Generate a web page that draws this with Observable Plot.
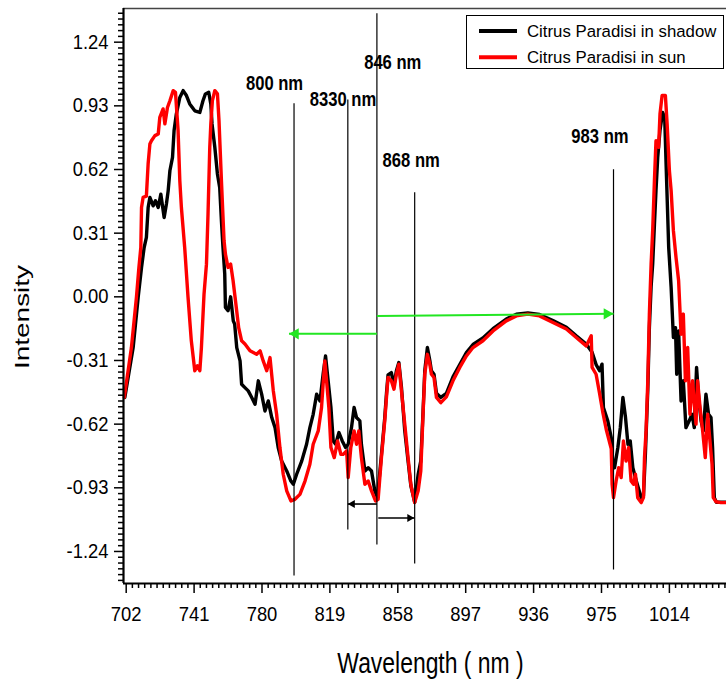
<!DOCTYPE html>
<html><head><meta charset="utf-8">
<script src="https://cdn.jsdelivr.net/npm/d3@7"></script>
<script src="https://cdn.jsdelivr.net/npm/@observablehq/plot@0.6"></script>
<style>
html,body{margin:0;padding:0;background:#fff;}
#wrap{position:relative;width:726px;height:680px;overflow:hidden;background:#fff;}
</style>
</head><body>
<div id="wrap"></div>
<script>
// ---- data ----
const seriesNames = ["Citrus Paradisi in shadow", "Citrus Paradisi in sun"];

const shadowNm = [701.2,706.0,708.9,710.8,712.3,713.6,714.6,715.6,717.5,718.8,
720.4,721.9,723.8,725.1,726.1,727.1,728.6,729.5,730.8,732.8,
734.7,736.6,738.5,741.4,744.3,746.1,747.5,749.4,750.6,751.3,
752.9,754.4,755.7,756.7,757.6,758.6,759.0,760.5,762.0,763.5,
764.3,765.5,767.4,768.3,770.2,772.1,774.1,776.0,777.9,779.8,
781.7,783.6,785.6,787.5,789.3,791.3,794.2,796.6,798.0,799.9,
802.8,805.6,807.5,809.4,811.4,813.3,815.1,816.5,818.0,819.6,
820.9,822.3,824.2,826.1,828.0,829.5,831.4,832.9,834.3,836.2,
837.1,839.1,841.0,842.9,844.8,846.3,848.6,850.5,851.5,852.4,
854.3,855.8,857.2,858.6,860.1,862.0,863.9,865.5,867.7,869.7,
871.2,872.5,873.5,875.0,876.4,877.3,878.8,880.2,882.7,885.9,
889.7,893.6,897.4,901.2,906.9,912.7,920.3,926.1,932.7,939.4,
947.1,954.8,960.5,966.2,969.6,971.9,973.9,975.3,976.1,978.6,
980.6,981.5,982.5,984.4,985.8,987.3,988.8,990.2,991.5,993.0,
995.0,997.8,999.1,1000.2,1001.6,1002.5,1003.5,1004.4,1005.4,1006.3,
1007.3,1008.6,1010.1,1011.3,1012.1,1013.0,1013.6,1015.0,1016.3,1017.5,
1018.2,1019.3,1020.7,1022.0,1023.5,1025.4,1027.0,1028.3,1029.6,1030.8,
1032.2,1033.5,1035.0,1036.5,1037.9,1038.8,1039.8,1041.0,1046.5];
const shadowInt = [-0.49,-0.247,0.0,0.143,0.24,0.289,0.435,0.484,0.443,0.468,
0.435,0.5,0.386,0.452,0.516,0.614,0.679,0.81,0.89,0.971,
1.004,0.98,0.939,0.906,0.898,0.955,0.988,0.996,0.939,0.842,
0.728,0.598,0.533,0.37,0.24,0.11,-0.052,-0.068,0.0,-0.117,
-0.133,-0.247,-0.312,-0.426,-0.442,-0.458,-0.49,-0.523,-0.409,-0.474,
-0.556,-0.507,-0.588,-0.637,-0.734,-0.8,-0.848,-0.897,-0.913,-0.864,
-0.8,-0.718,-0.637,-0.572,-0.474,-0.507,-0.377,-0.288,-0.409,-0.539,
-0.702,-0.718,-0.661,-0.702,-0.734,-0.718,-0.637,-0.539,-0.588,-0.604,
-0.718,-0.848,-0.832,-0.848,-0.945,-0.978,-0.77,-0.59,-0.47,-0.38,
-0.369,-0.43,-0.36,-0.32,-0.44,-0.653,-0.8,-0.92,-1.0,-0.864,
-0.8,-0.56,-0.36,-0.247,-0.31,-0.36,-0.377,-0.47,-0.49,-0.47,
-0.39,-0.33,-0.272,-0.232,-0.2,-0.155,-0.108,-0.085,-0.078,-0.086,
-0.115,-0.148,-0.19,-0.23,-0.27,-0.33,-0.36,-0.328,-0.539,-0.604,
-0.686,-0.815,-0.832,-0.734,-0.637,-0.49,-0.588,-0.718,-0.702,-0.832,
-0.897,-0.978,-0.97,-0.767,-0.45,-0.15,0.05,0.159,0.35,0.517,
0.679,0.81,0.898,0.874,0.647,0.403,0.24,0.045,-0.198,-0.15,
-0.377,-0.166,-0.507,-0.409,-0.637,-0.604,-0.572,-0.637,-0.344,-0.49,
-0.604,-0.653,-0.474,-0.572,-0.588,-0.734,-0.978,-1.0,-1.0];

const sunNm = [700.9,705.0,707.9,709.3,710.4,710.8,711.7,713.6,714.6,715.6,
716.5,718.5,720.4,721.3,723.2,724.2,725.7,727.1,729.0,730.3,
731.8,732.8,733.7,735.6,737.5,739.4,741.4,742.9,744.3,745.2,
746.7,748.1,749.0,750.0,750.6,751.5,752.9,754.4,755.3,756.7,
758.2,759.0,760.5,762.0,763.4,764.5,766.6,768.3,770.2,773.1,
776.9,778.9,780.7,782.7,784.6,786.5,788.4,790.3,792.2,794.2,
796.6,798.9,801.8,804.7,807.5,809.4,812.3,814.2,815.1,816.1,
817.1,818.4,819.6,821.5,823.4,825.3,826.6,828.6,829.5,831.0,
832.9,834.3,835.6,837.1,839.1,841.0,842.9,845.2,846.7,848.6,
850.5,851.5,852.4,854.3,855.8,857.2,858.6,860.1,862.0,863.9,
865.5,867.7,869.7,871.2,872.5,873.5,875.0,876.4,877.3,878.8,
880.2,882.7,885.9,889.7,893.6,897.4,901.2,906.9,912.7,920.3,
926.1,932.7,939.4,947.1,954.8,960.5,966.2,969.1,969.6,971.9,
973.9,975.7,977.7,980.6,981.1,981.9,983.4,984.9,986.3,987.6,
989.1,990.6,992.0,993.4,994.5,995.8,997.8,999.1,999.7,1000.6,
1001.6,1002.5,1003.5,1004.4,1005.4,1006.3,1007.8,1008.6,1009.8,1011.7,
1012.7,1014.0,1015.0,1016.3,1017.8,1019.3,1020.7,1022.0,1023.2,1024.5,
1025.8,1027.3,1029.3,1030.2,1031.6,1033.1,1034.6,1036.0,1037.3,1038.5,
1039.2,1040.8,1043.6,1046.5];
const sunInt = [-0.49,-0.247,0.0,0.143,0.24,0.435,0.484,0.49,0.648,0.744,
0.76,0.785,0.793,0.874,0.915,0.842,0.922,0.955,1.004,0.996,
0.81,0.565,0.435,0.24,0.0,-0.214,-0.36,-0.336,-0.36,-0.247,
0.013,0.159,0.403,0.728,0.84,0.955,1.004,0.988,0.858,0.565,
0.273,0.208,0.143,0.159,0.078,0.0,-0.15,-0.214,-0.23,-0.263,
-0.28,-0.263,-0.312,-0.36,-0.296,-0.458,-0.572,-0.734,-0.864,-0.945,
-0.994,-0.986,-0.962,-0.897,-0.815,-0.718,-0.653,-0.539,-0.426,-0.312,
-0.409,-0.539,-0.734,-0.783,-0.702,-0.767,-0.767,-0.75,-0.88,-0.734,
-0.653,-0.718,-0.653,-0.783,-0.913,-0.897,-0.945,-0.994,-0.986,-0.783,
-0.604,-0.49,-0.393,-0.409,-0.45,-0.377,-0.328,-0.458,-0.62,-0.783,
-0.913,-1.002,-0.945,-0.848,-0.572,-0.377,-0.28,-0.328,-0.377,-0.393,
-0.49,-0.515,-0.487,-0.409,-0.344,-0.288,-0.247,-0.214,-0.166,-0.117,
-0.093,-0.084,-0.093,-0.125,-0.157,-0.198,-0.239,-0.19,-0.344,-0.377,
-0.47,-0.56,-0.645,-0.74,-0.913,-0.978,-0.897,-0.832,-0.88,-0.702,
-0.8,-0.734,-0.897,-0.913,-0.864,-0.978,-1.002,-0.978,-0.783,-0.653,
-0.409,-0.084,0.159,0.322,0.565,0.76,0.728,0.89,0.98,0.98,
0.842,0.614,0.517,0.322,0.192,0.078,-0.182,-0.084,-0.409,-0.247,
-0.572,-0.409,-0.62,-0.409,-0.539,-0.653,-0.783,-0.572,-0.702,-0.815,
-0.978,-0.998,-1.002,-1.002];

const xTicks = [702, 741, 780, 819, 858, 897, 936, 975, 1014];
const yTicks = [-1.24, -0.93, -0.62, -0.31, 0, 0.31, 0.62, 0.93, 1.24];

// marker lines and their labels (wavelength, intensity extents)
const markerNm     = [798.4, 829.3, 846.0, 867.7, 981.9];
const markerTop    = [0.940, 0.958, 1.379, 0.507, 0.619];
const markerBottom = [-1.360, -1.135, -1.209, -1.301, -1.330];
const markerLabels = ["800 nm", "8330 nm", "846 nm", "868 nm", "983 nm"];
const labelNm      = [787.2, 826.5, 855.1, 865.7, 974.1];
const labelInt     = [1.036, 0.958, 1.143, 0.665, 0.782];

// arrows
const arrowFromNm  = [846.0, 846.0, 846.0, 846.8];
const arrowFromInt = [-0.180, -0.093, -1.009, -1.077];
const arrowToNm    = [795.5, 981.9, 829.3, 867.5];
const arrowToInt   = [-0.180, -0.083, -1.009, -1.077];
const arrowGroup   = ["range", "range", "shift", "shift"];

// ---- build tables ----
const shadow = shadowNm.map((x, i) => ({nm: x, v: shadowInt[i]}));
const sun = sunNm.map((x, i) => ({nm: x, v: sunInt[i]}));
const markers = markerNm.map((x, i) => ({x, y1: markerTop[i], y2: markerBottom[i]}));
const labels = markerLabels.map((t, i) => ({t, x: labelNm[i], y: labelInt[i]}));
const arrows = arrowFromNm.map((x1, i) => ({x1, y1: arrowFromInt[i], x2: arrowToNm[i], y2: arrowToInt[i],
  group: arrowGroup[i], dir: arrowToNm[i] > x1 ? 1 : -1}));

const xDomain = [700.45, 1046.8];
const yDomain = [-1.396, 1.404];
const yMinor = d3.range(-60, 61).filter(k => k % 11 !== 0).map(k => k * 0.31 / 11)
  .filter(v => v >= yDomain[0] && v <= yDomain[1]);
const xMinor = d3.range(-2, 120).filter(k => k % 11 !== 0).map(k => 702 + k * 39 / 11)
  .filter(v => v >= xDomain[0] && v <= xDomain[1]);

const GREEN = "#22e622";
function head(group, dir, color, r) {
  const tip = 2 * Math.sqrt(Math.PI * r * r / (3 * Math.sqrt(3)));
  return Plot.dot(arrows.filter(d => d.group === group && d.dir === dir),
    {x: "x2", y: "y2", symbol: "triangle", r, fill: color, stroke: "none", rotate: dir * 90, dx: -dir * tip});
}

const plot = Plot.plot({
  width: 726, height: 680,
  marginLeft: 123, marginRight: 0, marginTop: 8, marginBottom: 97,
  x: {domain: xDomain},
  y: {domain: yDomain},
  style: {fontFamily: "'Liberation Sans', Arial, sans-serif", fontSize: "20px", background: "#fff", color: "#000"},
  marks: [
    Plot.ruleY([yDomain[1]], {stroke: "#444", strokeWidth: 1.5}),
    // curves
    Plot.line(shadow, {x: "nm", y: "v", stroke: "#000", strokeWidth: 3.4, strokeLinejoin: "round"}),
    Plot.line(sun, {x: "nm", y: "v", stroke: "#ff0000", strokeWidth: 3.4, strokeLinejoin: "round"}),
    // marker lines
    Plot.ruleX(markers, {x: "x", y1: "y1", y2: "y2", stroke: "#000", strokeWidth: 1.2}),
    Plot.text(labels, {x: "x", y: "y", text: "t", fontWeight: "bold", fontSize: 20, textAnchor: "middle", lineAnchor: "middle", fill: "#000"}),
    // arrows
    Plot.link(arrows.filter(d => d.group === "range"), {x1: "x1", y1: "y1", x2: "x2", y2: "y2", stroke: GREEN, strokeWidth: 2}),
    Plot.link(arrows.filter(d => d.group === "shift"), {x1: "x1", y1: "y1", x2: "x2", y2: "y2", stroke: "#000", strokeWidth: 1.6}),
    head("range", -1, GREEN, 4.2),
    head("range", 1, GREEN, 4.2),
    head("shift", -1, "#000", 3),
    head("shift", 1, "#000", 3),
    // axes
    Plot.axisY(yMinor, {tickSize: 5, tickFormat: () => "", stroke: "#000", strokeWidth: 1.5, label: null}),
    Plot.axisY(yTicks, {tickSize: 9, tickPadding: 6, tickFormat: d => d.toFixed(2), stroke: "#000", strokeWidth: 1.5, fontSize: 20, label: null}),
    Plot.axisX(xMinor, {tickSize: 5, tickFormat: () => "", stroke: "#000", strokeWidth: 1.5, label: null}),
    Plot.axisX(xTicks, {tickSize: 10, tickPadding: 13, tickFormat: d => String(d), stroke: "#000", strokeWidth: 1.5, fontSize: 20, label: null}),
    Plot.ruleX([xDomain[0]], {stroke: "#000", strokeWidth: 2.2}),
    Plot.ruleY([yDomain[0]], {stroke: "#000", strokeWidth: 2.2}),
    // axis titles
    Plot.text(["Wavelength ( nm )"], {frameAnchor: "bottom", dx: 5.5, dy: 80, textAnchor: "middle", lineAnchor: "middle", fontSize: 29, fill: "#000"}),
    Plot.text(["Intensity"], {frameAnchor: "left", dx: -101, dy: 21, rotate: -90, textAnchor: "middle", lineAnchor: "middle", fontSize: 28, fill: "#000"})
  ]
});

const wrap = document.getElementById("wrap");
wrap.appendChild(plot);
plot.style.position = "absolute";
plot.style.left = "0px";
plot.style.top = "0px";

// narrow the glyphs like in the reference
d3.select(plot).selectAll("text").each(function () {
  const t = this.textContent;
  if (!t) return;
  if (t === "Intensity") {
    const tr = this.getAttribute("transform") || "";
    this.setAttribute("transform", tr + " scale(1,0.72)");
    return;
  }
  let c = 0.92;
  if (markerLabels.includes(t)) c = 0.83;
  if (t.startsWith("Wavelength")) c = 0.79;
  const len = this.getComputedTextLength();
  this.setAttribute("textLength", (len * c).toFixed(1));
  this.setAttribute("lengthAdjust", "spacingAndGlyphs");
});

// legend box
const seriesColors = ["#000000", "#ff0000"];
const leg = d3.create("svg").attr("width", 258).attr("height", 54)
  .style("position", "absolute").style("left", "466px").style("top", "15px");
leg.append("rect").attr("x", 0.5).attr("y", 0.5).attr("width", 257).attr("height", 53)
  .attr("fill", "#fff").attr("stroke", "#000").attr("stroke-width", 1);
seriesNames.forEach((name, i) => {
  const cy = 16 + i * 26.3;
  leg.append("line").attr("x1", 13).attr("x2", 51).attr("y1", cy).attr("y2", cy)
    .attr("stroke", seriesColors[i]).attr("stroke-width", 4);
  leg.append("text").attr("x", 61).attr("y", cy + 6).text(name)
    .attr("font-family", "'Liberation Sans', Arial, sans-serif").attr("font-size", 16.8).attr("fill", "#000");
});
wrap.appendChild(leg.node());
</script>
</body></html>
